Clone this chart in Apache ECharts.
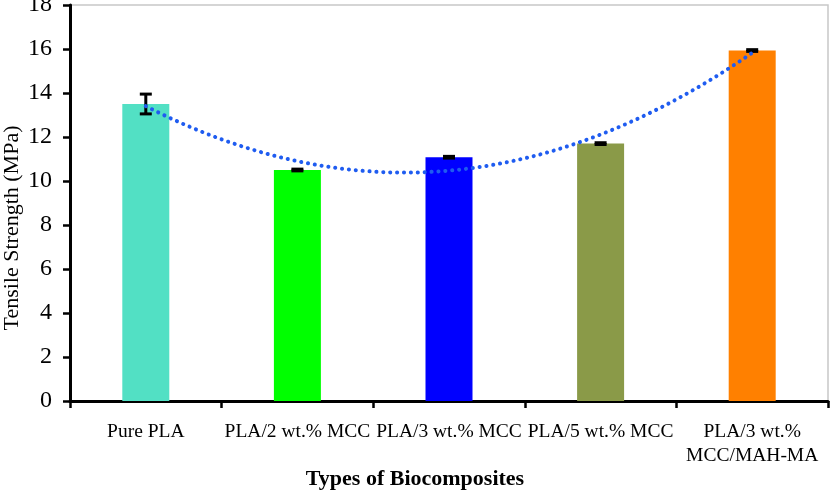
<!DOCTYPE html>
<html><head><meta charset="utf-8">
<script src="https://cdn.jsdelivr.net/npm/echarts@6/dist/echarts.min.js"></script>
<style>html,body{margin:0;padding:0;background:#fff}#c{width:830px;height:491px}</style>
</head><body><div id="c"></div>
<script>
var categories = ['Pure PLA', 'PLA/2 wt.% MCC', 'PLA/3 wt.% MCC', 'PLA/5 wt.% MCC', 'PLA/3 wt.%\nMCC/MAH-MA'];
var strength = [13.5, 10.5, 11.08, 11.7, 15.93];
var errors = [0.45, 0.04, 0.04, 0.04, 0.04];
var barColors = ['#52E0C4', '#00FF00', '#0000FF', '#8A9A48', '#FF8000'];
var yTicks = [0, 2, 4, 6, 8, 10, 12, 14, 16, 18];

// 2nd-order polynomial trendline (least squares) from the data
function polyFit(ys) {
  var n = ys.length, S = [0,0,0,0,0], T = [0,0,0];
  for (var i = 0; i < n; i++) {
    var x = i + 1, p = 1;
    for (var k = 0; k < 5; k++) { S[k] += p; if (k < 3) T[k] += p * ys[i]; p *= x; }
  }
  var A = [[S[0],S[1],S[2],T[0]],[S[1],S[2],S[3],T[1]],[S[2],S[3],S[4],T[2]]];
  for (var c = 0; c < 3; c++) {
    for (var r = c + 1; r < 3; r++) {
      var f = A[r][c] / A[c][c];
      for (var j = c; j < 4; j++) A[r][j] -= f * A[c][j];
    }
  }
  var co = [0,0,0];
  for (var r2 = 2; r2 >= 0; r2--) {
    var s = A[r2][3];
    for (var j2 = r2 + 1; j2 < 3; j2++) s -= A[r2][j2] * co[j2];
    co[r2] = s / A[r2][r2];
  }
  return co;
}
var co = polyFit(strength);
var trend = [];
for (var t = 1; t <= 5.0001; t += 0.05) trend.push([t, co[0] + co[1]*t + co[2]*t*t]);

var chart = echarts.init(document.getElementById('c'));
var font = '"Liberation Serif", "Times New Roman", serif';
chart.setOption({
  animation: false,
  grid: { left: 70, right: 2, top: 5, bottom: 90, show: true, borderColor: '#c8c8c8', borderWidth: 1.5,
    backgroundColor: 'transparent', containLabel: false, outerBoundsMode: 'none' },
  xAxis: [{
    type: 'category', data: categories,
    axisLine: { lineStyle: { color: '#000', width: 3 } },
    axisTick: { show: true, length: 7, lineStyle: { color: '#000', width: 2.5 } },
    axisLabel: { fontFamily: font, fontSize: 19.5, color: '#000', margin: 19, lineHeight: 24, interval: 0 },
    splitLine: { show: false }
  }, {
    type: 'value', min: 0.5, max: 5.5, show: false, position: 'bottom'
  }],
  yAxis: {
    type: 'value', min: 0, max: 18, interval: 2,
    axisLine: { show: true, lineStyle: { color: '#000', width: 3 } },
    axisTick: { show: true, length: 7, lineStyle: { color: '#000', width: 2.5 } },
    axisLabel: { fontFamily: font, fontSize: 24, color: '#000', margin: 18,
      formatter: function (v) { return yTicks.indexOf(v) >= 0 ? String(v) : ''; } },
    splitLine: { show: false }
  },
  graphic: [{
    type: 'text', x: 415, y: 479,
    style: { text: 'Types of Biocomposites', font: 'bold 22px ' + font, fill: '#000', textAlign: 'center', textVerticalAlign: 'middle' }
  }, {
    type: 'text', x: 12, y: 228, rotation: Math.PI / 2,
    style: { text: 'Tensile Strength (MPa)', font: '22px ' + font, fill: '#000', textAlign: 'center', textVerticalAlign: 'middle' }
  }],
  series: [{
    type: 'bar', barWidth: '31%',
    data: strength.map(function (v, i) { return { value: v, itemStyle: { color: barColors[i] } }; }),
    z: 2
  }, {
    type: 'custom', z: 4,
    data: strength.map(function (v, i) { return [i, v - errors[i], v + errors[i]]; }),
    renderItem: function (params, api) {
      var lo = api.coord([api.value(0), api.value(1)]);
      var hi = api.coord([api.value(0), api.value(2)]);
      var hw = 6, st = { stroke: '#000', lineWidth: 3 };
      return { type: 'group', children: [
        { type: 'line', shape: { x1: lo[0], y1: lo[1], x2: hi[0], y2: hi[1] }, style: st },
        { type: 'line', shape: { x1: lo[0]-hw, y1: lo[1], x2: lo[0]+hw, y2: lo[1] }, style: st },
        { type: 'line', shape: { x1: hi[0]-hw, y1: hi[1], x2: hi[0]+hw, y2: hi[1] }, style: st }
      ]};
    }
  }, {
    type: 'line', xAxisIndex: 1, data: trend, showSymbol: false, z: 5,
    lineStyle: { color: '#1F5CF0', width: 4, type: [0.1, 6.8], cap: 'round' }
  }]
});
</script></body></html>
